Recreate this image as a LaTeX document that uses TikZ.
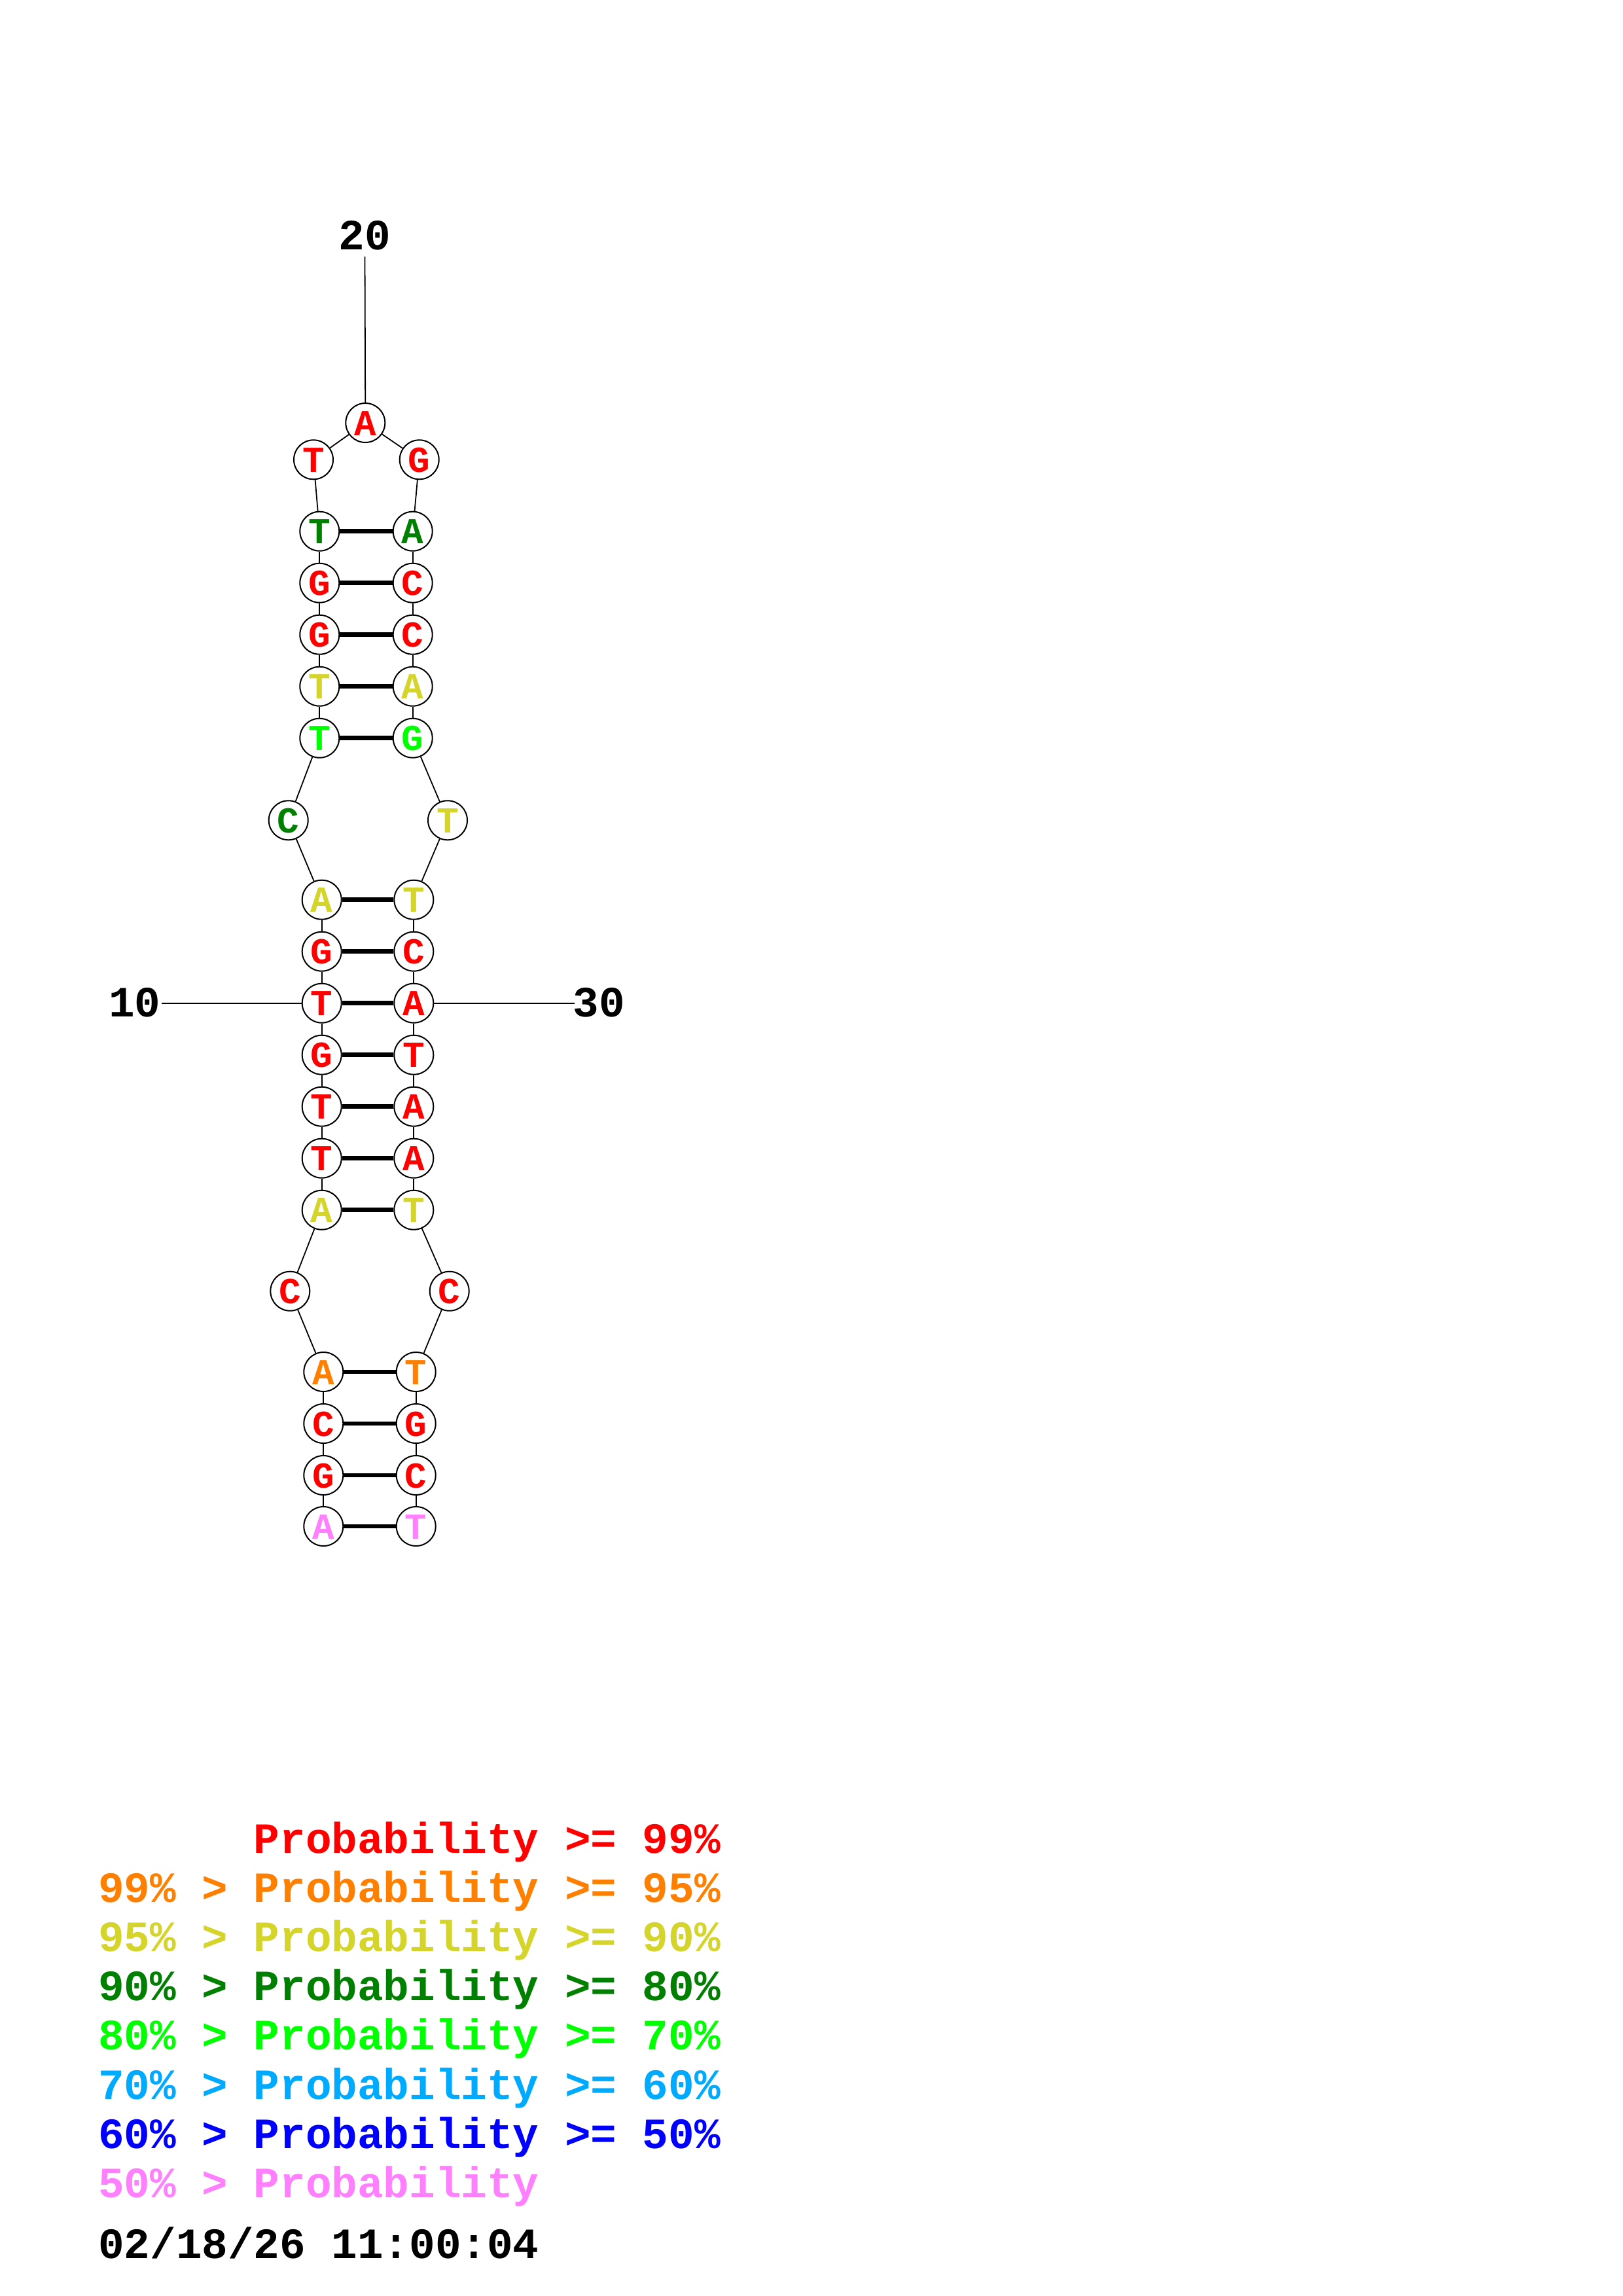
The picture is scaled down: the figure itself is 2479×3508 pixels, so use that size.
\documentclass[tikz,border=0pt]{standalone}
\usepackage{fontspec}
\newfontfamily\courfont{Liberation Mono}
\newcommand\nucfont{\courfont\bfseries\fontsize{56}{56}\selectfont}
\newcommand\lblfont{\courfont\bfseries\fontsize{66}{66}\selectfont}
\definecolor{cRed}{RGB}{255,0,0}
\definecolor{cOrange}{RGB}{255,128,0}
\definecolor{cYellow}{RGB}{212,212,42}
\definecolor{cDkGreen}{RGB}{0,128,0}
\definecolor{cGreen}{RGB}{0,255,0}
\definecolor{cLtBlue}{RGB}{0,170,255}
\definecolor{cBlue}{RGB}{0,0,255}
\definecolor{cPink}{RGB}{255,128,255}
\tikzset{
  nuc/.style={circle, draw=black, line width=2pt, fill=white, minimum size=60pt,
    inner sep=0pt, font=\nucfont, text height=38pt, text depth=0pt},
  bb/.style={line width=1.8pt},
  bpair/.style={line width=6.5pt},
  numlbl/.style={font=\lblfont, anchor=base, inner sep=0pt},
  leg/.style={font=\lblfont, anchor=base west, inner sep=0pt},
}
\begin{document}
\begin{tikzpicture}[x=1pt,y=-1pt]
\useasboundingbox (0,0) rectangle (2479,3508);
\fill[white] (0,0) rectangle (2479,3508);
% nucleotides
\node[nuc, text=cPink]    (n1)  at (494.3,2332) {A};
\node[nuc, text=cRed]     (n2)  at (494.3,2254) {G};
\node[nuc, text=cRed]     (n3)  at (494.3,2175) {C};
\node[nuc, text=cOrange]  (n4)  at (494.3,2096) {A};
\node[nuc, text=cRed]     (n5)  at (443.3,1972.7) {C};
\node[nuc, text=cYellow]  (n6)  at (491.7,1848.7) {A};
\node[nuc, text=cRed]     (n7)  at (491.7,1769.7) {T};
\node[nuc, text=cRed]     (n8)  at (491.7,1690.7) {T};
\node[nuc, text=cRed]     (n9)  at (491.7,1611.7) {G};
\node[nuc, text=cRed]     (n10) at (491.7,1532.7) {T};
\node[nuc, text=cRed]     (n11) at (491.7,1453.7) {G};
\node[nuc, text=cYellow]  (n12) at (491.7,1374.7) {A};
\node[nuc, text=cDkGreen] (n13) at (440.7,1253.3) {C};
\node[nuc, text=cGreen]   (n14) at (488.3,1127.7) {T};
\node[nuc, text=cYellow]  (n15) at (488.3,1048.7) {T};
\node[nuc, text=cRed]     (n16) at (488.3,969.7) {G};
\node[nuc, text=cRed]     (n17) at (488.3,890.7) {G};
\node[nuc, text=cDkGreen] (n18) at (488.3,811.7) {T};
\node[nuc, text=cRed]     (n19) at (479,702.3) {T};
\node[nuc, text=cRed]     (n20) at (558.3,646) {A};
\node[nuc, text=cRed]     (n21) at (640.7,702.3) {G};
\node[nuc, text=cDkGreen] (n22) at (630.7,811.7) {A};
\node[nuc, text=cRed]     (n23) at (630.7,890.7) {C};
\node[nuc, text=cRed]     (n24) at (630.7,969.7) {C};
\node[nuc, text=cYellow]  (n25) at (630.7,1048.7) {A};
\node[nuc, text=cGreen]   (n26) at (630.7,1127.7) {G};
\node[nuc, text=cYellow]  (n27) at (684,1253.3) {T};
\node[nuc, text=cYellow]  (n28) at (632.3,1374.7) {T};
\node[nuc, text=cRed]     (n29) at (632.3,1453.7) {C};
\node[nuc, text=cRed]     (n30) at (632.3,1532.7) {A};
\node[nuc, text=cRed]     (n31) at (632.3,1611.7) {T};
\node[nuc, text=cRed]     (n32) at (632.3,1690.7) {A};
\node[nuc, text=cRed]     (n33) at (632.3,1769.7) {A};
\node[nuc, text=cYellow]  (n34) at (632.3,1848.7) {T};
\node[nuc, text=cRed]     (n35) at (686.7,1972.7) {C};
\node[nuc, text=cOrange]  (n36) at (635.7,2096) {T};
\node[nuc, text=cRed]     (n37) at (635.7,2175) {G};
\node[nuc, text=cRed]     (n38) at (635.7,2254) {C};
\node[nuc, text=cPink]    (n39) at (635.7,2332) {T};
% backbone
\foreach \i [evaluate=\i as \j using int(\i+1)] in {1,...,38}
  \draw[bb] (n\i) -- (n\j);
% base pairs
\foreach \a/\b in {1/39,2/38,3/37,4/36,6/34,7/33,8/32,9/31,10/30,11/29,12/28,14/26,15/25,16/24,17/23,18/22}
  \draw[bpair] (n\a) -- (n\b);
% numbering
\node[numlbl] (l10) at (206,1553) {10};
\node[numlbl] (l20) at (557,381) {20};
\node[numlbl] (l30) at (915.5,1553) {30};
\coordinate (c10) at (246.7,1532.7);
\coordinate (c20) at (557.5,392);
\coordinate (c30) at (878,1532.7);
\draw[bb] (c10) -- (n10);
\draw[bb] (c20) -- (n20);
\draw[bb] (n30) -- (c30);
% legend
\node[leg, text=cRed]     (g1) at (387.6,2831) {Probability >= 99\%};
\node[leg, text=cOrange]  (g2) at (150,2906) {99\% > Probability >= 95\%};
\node[leg, text=cYellow]  (g3) at (150,2981) {95\% > Probability >= 90\%};
\node[leg, text=cDkGreen] (g4) at (150,3056) {90\% > Probability >= 80\%};
\node[leg, text=cGreen]   (g5) at (150,3131) {80\% > Probability >= 70\%};
\node[leg, text=cLtBlue]  (g6) at (150,3207) {70\% > Probability >= 60\%};
\node[leg, text=cBlue]    (g7) at (150,3282) {60\% > Probability >= 50\%};
\node[leg, text=cPink]    (g8) at (150,3357) {50\% > Probability};
\node[leg, text=black]    (g9) at (150,3450) {02/18/26 11:00:04};
\end{tikzpicture}
\end{document}
